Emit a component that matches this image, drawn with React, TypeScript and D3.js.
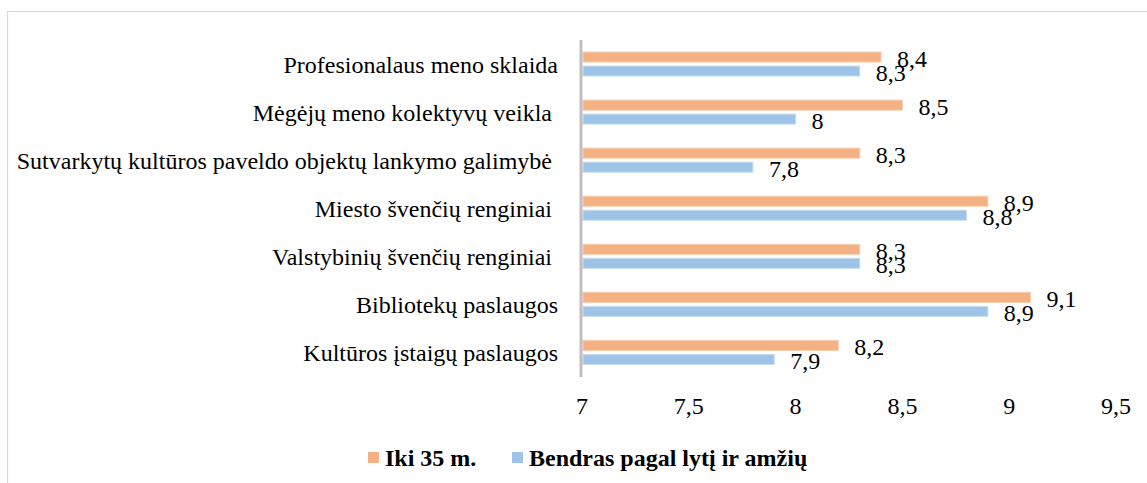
import React from "react";
import * as d3 from "d3";

const categories = [
  "Profesionalaus meno sklaida",
  "Mėgėjų meno kolektyvų veikla ",
  "Sutvarkytų kultūros paveldo objektų lankymo galimybė ",
  "Miesto švenčių renginiai ",
  "Valstybinių švenčių renginiai ",
  "Bibliotekų paslaugos",
  "Kultūros įstaigų paslaugos",
];
const seriesNames = ["Iki 35 m.", "Bendras pagal lytį ir amžių"];
const iki35 = [8.4, 8.5, 8.3, 8.9, 8.3, 9.1, 8.2];
const bendras = [8.3, 8, 7.8, 8.8, 8.3, 8.9, 7.9];
const xTicks = [7, 7.5, 8, 8.5, 9, 9.5];

const W = 1147;
const H = 483;
const FONT = "Liberation Serif";
const ORANGE = "#F4B183";
const ORANGE_EDGE = "#F8CBAD";
const BLUE = "#9DC3E6";
const BLUE_EDGE = "#C5DCF0";

const fmt = (v: number) => String(v).replace(".", ",");

export default function App() {
  const x = d3.scaleLinear().domain([7, 9.5]).range([582, 1116]);
  const y = d3.scaleBand<string>().domain(categories).range([40, 376.5]);
  const bw = y.bandwidth();
  const barH = 10;
  const gap = 4;
  const series = [
    { name: seriesNames[0], values: iki35, color: ORANGE, edge: ORANGE_EDGE, off: -gap / 2 - barH },
    { name: seriesNames[1], values: bendras, color: BLUE, edge: BLUE_EDGE, off: gap / 2 },
  ];
  const txt = { fontFamily: FONT, fontSize: 24, whiteSpace: "pre" as const };
  return (
    <svg
      width={W}
      height={H}
      style={{ position: "absolute", left: 0, top: 0, background: "#fff" }}
    >
      <rect x={7.5} y={11.5} width={1200} height={600} fill="#fff" stroke="#D9D9D9" strokeWidth={1.2} />
      {categories.map((c, i) => {
        const cy = (y(c) as number) + bw / 2;
        return (
          <g key={c}>
            <text x={558} y={cy + 1} textAnchor="end" dominantBaseline="central" fill="#000" style={txt}>
              {c}
            </text>
            {series.map((s) => {
              const v = s.values[i];
              const yy = cy + s.off;
              return (
                <g key={s.name}>
                  <rect
                    x={x(7) + 1}
                    y={yy}
                    width={x(v) - x(7) - 1}
                    height={barH}
                    fill={s.color}
                    stroke={s.edge}
                    strokeWidth={1}
                  />
                  <text x={x(v) + 16} y={yy + barH / 2 + 2} dominantBaseline="central" fill="#000" style={txt}>
                    {fmt(v)}
                  </text>
                </g>
              );
            })}
          </g>
        );
      })}
      <line x1={x(7) - 1} x2={x(7) - 1} y1={40} y2={377} stroke="#BFBFBF" strokeWidth={3} />
      {xTicks.map((t) => (
        <text key={t} x={x(t)} y={406} textAnchor="middle" dominantBaseline="central" fill="#000" style={txt}>
          {fmt(t)}
        </text>
      ))}
      <rect x={368} y={452} width={11} height={11} fill={ORANGE} />
      <text x={385} y={458} dominantBaseline="central" fontWeight="bold" style={txt}>
        {seriesNames[0]}
      </text>
      <rect x={512} y={452} width={11} height={11} fill={BLUE} />
      <text x={529} y={458} dominantBaseline="central" fontWeight="bold" style={txt}>
        {seriesNames[1]}
      </text>
    </svg>
  );
}
